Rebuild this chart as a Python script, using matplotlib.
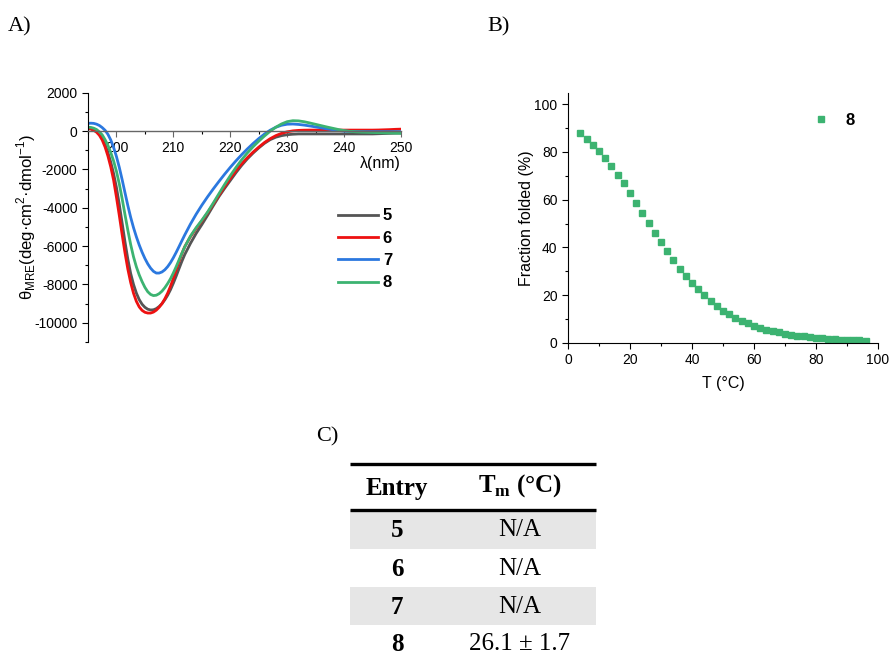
import numpy as np
import matplotlib
matplotlib.use("Agg")
import matplotlib.pyplot as plt
from matplotlib.ticker import MultipleLocator
from matplotlib.patches import Rectangle

plt.rcParams['font.family'] = ['Liberation Sans', 'DejaVu Sans']
plt.rcParams['mathtext.fontset'] = 'custom'
plt.rcParams['mathtext.bf'] = 'Liberation Serif:bold'
plt.rcParams['mathtext.rm'] = 'Liberation Sans'
plt.rcParams['axes.unicode_minus'] = False

# ---------------- data ----------------
# wavelengths (nm): 0.5 nm steps 195-211.5, then 1 nm steps 212-250
wavelength = [195.0, 195.5, 196.0, 196.5, 197.0, 197.5, 198.0, 198.5, 199.0, 199.5,
              200.0, 200.5, 201.0, 201.5, 202.0, 202.5, 203.0, 203.5, 204.0, 204.5,
              205.0, 205.5, 206.0, 206.5, 207.0, 207.5, 208.0, 208.5, 209.0, 209.5,
              210.0, 210.5, 211.0, 211.5,
              212, 213, 214, 215, 216, 217, 218, 219, 220, 221,
              222, 223, 224, 225, 226, 227, 228, 229, 230, 231,
              232, 233, 234, 235, 236, 237, 238, 239, 240, 241,
              242, 243, 244, 245, 246, 247, 248, 249, 250]

cd_5 = [150, 130, 80, 0, -130, -350, -700, -1130, -1620, -2220,
        -2950, -3830, -4800, -5780, -6680, -7430, -8000, -8450, -8790, -9030,
        -9190, -9290, -9330, -9320, -9260, -9150, -9000, -8800, -8560, -8270,
        -7930, -7560, -7170, -6790,
        -6440, -5860, -5340, -4880, -4400, -3900, -3420, -2990, -2580, -2170,
        -1790, -1450, -1150, -880, -640, -450, -320, -240, -190, -165,
        -150, -150, -150, -150, -150, -150, -150, -150, -150, -150,
        -150, -150, -150, -150, -140, -130, -120, -110, -100]
cd_6 = [130, 100, 40, -60, -220, -470, -830, -1300, -1870, -2560,
        -3450, -4400, -5400, -6350, -7200, -7900, -8460, -8880, -9170, -9350,
        -9450, -9490, -9490, -9440, -9340, -9190, -9000, -8750, -8450, -8090,
        -7680, -7240, -6800, -6390,
        -6030, -5510, -5080, -4690, -4260, -3810, -3350, -2900, -2470, -2070,
        -1710, -1390, -1100, -840, -600, -400, -240, -120, -40, 10,
        35, 45, 50, 50, 50, 50, 50, 50, 50, 50,
        50, 50, 50, 50, 55, 65, 75, 90, 100]
cd_7 = [400, 410, 400, 360, 290, 180, 40, -170, -465, -855,
        -1330, -1895, -2535, -3215, -3885, -4500, -5040, -5515, -5940, -6315,
        -6645, -6925, -7150, -7315, -7405, -7405, -7348, -7235, -7070, -6858,
        -6605, -6323, -6023, -5718,
        -5418, -4853, -4338, -3868, -3433, -3023, -2631, -2253, -1893, -1553,
        -1233, -933, -653, -393, -158, 42, 197, 302, 357, 367,
        345, 310, 265, 215, 165, 115, 70, 30, 0, -15,
        -25, -30, -30, -30, -30, -30, -30, -30, -30]
cd_8 = [200, 190, 150, 80, -40, -200, -450, -750, -1120, -1560,
        -2100, -2760, -3530, -4360, -5170, -5920, -6560, -7080, -7500, -7850,
        -8150, -8380, -8520, -8580, -8560, -8480, -8350, -8170, -7950, -7700,
        -7400, -7070, -6720, -6370,
        -6040, -5480, -5040, -4650, -4230, -3760, -3270, -2790, -2330, -1900,
        -1500, -1140, -820, -530, -260, -10, 200, 370, 490, 540,
        530, 485, 420, 350, 280, 210, 145, 80, 25, -15,
        -40, -55, -65, -75, -85, -95, -100, -110, -120]
cd_series = ['5', '6', '7', '8']
cd_colors = ['#555555', '#ee1111', '#2b78df', '#3cb371']

temperature = np.arange(4, 98, 2)  # °C
fraction_folded_8 = [88.0, 85.5, 83.0, 80.3, 77.3, 74.2, 70.5, 67.0, 62.8, 58.5,
                     54.3, 50.3, 46.2, 42.3, 38.5, 34.7, 31.1, 28.0, 25.1, 22.5,
                     19.9, 17.5, 15.5, 13.6, 12.0, 10.6, 9.4, 8.2, 7.3, 6.4,
                     5.6, 5.0, 4.4, 3.9, 3.5, 3.1, 2.8, 2.5, 2.2, 2.0,
                     1.8, 1.6, 1.45, 1.3, 1.2, 1.1, 1.0]

table_entries = ['5', '6', '7', '8']
table_tm = ['N/A', 'N/A', 'N/A', '26.1 ± 1.7']

# ---------------- figure ----------------
W, H = 891, 660
fig = plt.figure(figsize=(W / 100, H / 100), dpi=100)

def px_axes(x0, y0, x1, y1):
    return fig.add_axes([x0 / W, 1 - y1 / H, (x1 - x0) / W, (y1 - y0) / H])

# ---- Panel A ----
axA = px_axes(88, 92.7, 401, 342)
for name, vals, col in zip(cd_series, [cd_5, cd_6, cd_7, cd_8], cd_colors):
    axA.plot(wavelength, vals, color=col, lw=2.0, label=name, solid_joinstyle='round')
axA.set_xlim(195, 250)
axA.set_ylim(-11000, 2000)
axA.spines['top'].set_visible(False)
axA.spines['right'].set_visible(False)
axA.spines['bottom'].set_position(('data', 0))
axA.spines['bottom'].set_color('#666666')
axA.spines['bottom'].set_linewidth(1.0)
axA.xaxis.set_minor_locator(MultipleLocator(5))
axA.yaxis.set_major_locator(MultipleLocator(2000))
axA.yaxis.set_minor_locator(MultipleLocator(1000))
axA.set_xticks([200, 210, 220, 230, 240, 250])
axA.tick_params(axis='both', which='major', direction='out', length=4, labelsize=10, width=0.8)
axA.tick_params(axis='both', which='minor', direction='out', length=2.5, width=0.8)
axA.tick_params(axis='x', colors='#666666', labelcolor='black')
axA.set_ylabel('θ$_{\\mathregular{MRE}}$(deg·cm$^{\\mathregular{2}}$·dmol$^{\\mathregular{-1}}$)',
               fontsize=12, labelpad=-2.5)
axA.text(1.0, 0.715, 'λ(nm)', transform=axA.transAxes, ha='right', va='center', fontsize=11.5)
axA.legend(loc='upper left', bbox_to_anchor=(0.75, 0.596), frameon=False,
           handlelength=2.4, handletextpad=0.3, labelspacing=0.44,
           prop={'weight': 'bold', 'size': 12})

# ---- Panel B ----
axB = px_axes(568, 93, 878, 343)
axB.plot(temperature, fraction_folded_8, linestyle='none', marker='s', markersize=5,
         color='#3cb371', label='8')
axB.set_xlim(0, 100)
axB.set_ylim(0, 104.7)
axB.spines['top'].set_visible(False)
axB.spines['right'].set_visible(False)
axB.xaxis.set_major_locator(MultipleLocator(20))
axB.xaxis.set_minor_locator(MultipleLocator(10))
axB.yaxis.set_major_locator(MultipleLocator(20))
axB.yaxis.set_minor_locator(MultipleLocator(10))
axB.tick_params(axis='both', which='major', direction='out', length=4, labelsize=10, width=0.8)
axB.tick_params(axis='both', which='minor', direction='out', length=2.5, width=0.8)
axB.set_xlabel('T (°C)', fontsize=11.5, labelpad=6)
axB.set_ylabel('Fraction folded (%)', fontsize=11.5, labelpad=0.5)
axB.legend(loc='upper right', bbox_to_anchor=(0.974, 0.98), frameon=False,
           handletextpad=0.48, markerscale=1.0, prop={'weight': 'bold', 'size': 12})

# ---- Panel labels & table ----
axT = fig.add_axes([0, 0, 1, 1], zorder=-1)
axT.set_xlim(0, W)
axT.set_ylim(H, 0)
axT.axis('off')
serif = 'Liberation Serif'
axT.text(8, 27, 'A)', fontsize=16, family=serif, va='center', ha='left')
axT.text(487, 27, 'B)', fontsize=16, family=serif, va='center', ha='left')
axT.text(316, 437, 'C)', fontsize=16, family=serif, va='center', ha='left')

tx0, tx1 = 350, 596
row_edges = [510, 549, 587, 625, 662]
for i in range(len(table_entries)):
    if i % 2 == 0:
        axT.add_patch(Rectangle((tx0, row_edges[i]), tx1 - tx0, row_edges[i + 1] - row_edges[i],
                                facecolor='#e6e6e6', edgecolor='none'))
axT.plot([tx0, tx1], [464, 464], color='black', lw=2.4, solid_capstyle='butt')
axT.plot([tx0, tx1], [510, 510], color='black', lw=2.4, solid_capstyle='butt')
axT.text(397, 488, 'Entry', fontsize=18, family=serif, weight='bold', ha='center', va='center')
axT.text(520, 486, r'$\mathbf{T}_{\mathbf{m}}$ (°C)', fontsize=18, family=serif, weight='bold',
         ha='center', va='center')
for i, (e, t) in enumerate(zip(table_entries, table_tm)):
    yc = (row_edges[i] + row_edges[i + 1]) / 2 + 1
    axT.text(397, yc, e, fontsize=18, family=serif, weight='bold', ha='center', va='center')
    axT.text(520, yc, t, fontsize=18, family=serif, ha='center', va='center')

fig.savefig('out.png', dpi=100)
